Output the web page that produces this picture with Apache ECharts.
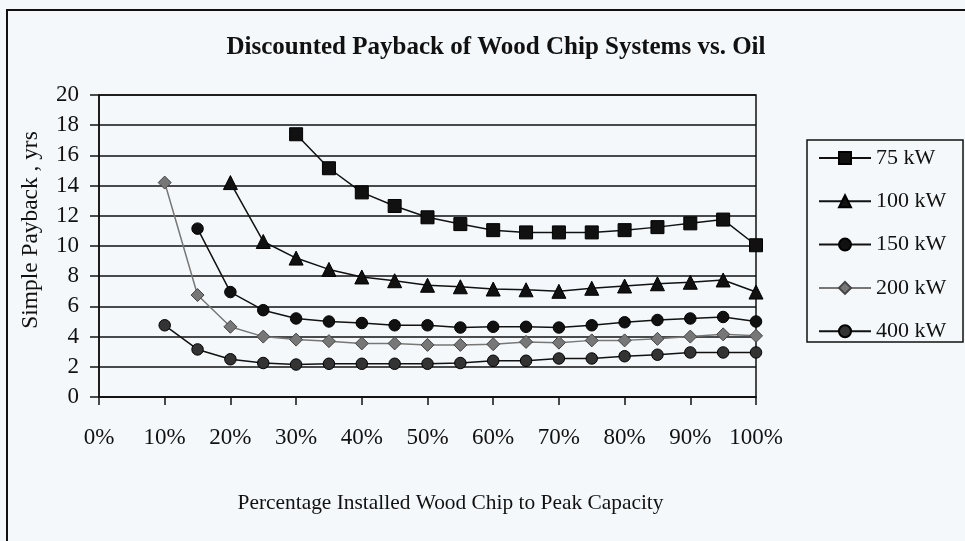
<!DOCTYPE html>
<html>
<head>
<meta charset="utf-8">
<script src="https://cdn.jsdelivr.net/npm/echarts@6/dist/echarts.min.js"></script>
<style>
  html, body { margin: 0; padding: 0; background: #f4f8fb; }
  #chart { width: 965px; height: 541px; }
</style>
</head>
<body>
<div id="chart"></div>
<script>
// Share of installed wood-chip capacity relative to peak (%)
const pct = [10, 15, 20, 25, 30, 35, 40, 45, 50, 55, 60, 65, 70, 75, 80, 85, 90, 95, 100];

// Payback in years for each boiler size (null where no value exists)
const kw75  = [null, null, null, null, 17.4, 15.15, 13.55, 12.65, 11.9, 11.45, 11.05, 10.9, 10.9, 10.9, 11.05, 11.25, 11.5, 11.75, 10.05];
const kw100 = [null, null, 14.2, 10.3, 9.2, 8.45, 7.95, 7.7, 7.4, 7.3, 7.15, 7.1, 7.0, 7.2, 7.35, 7.5, 7.6, 7.75, 6.95];
const kw150 = [null, 11.15, 6.95, 5.75, 5.2, 5.0, 4.9, 4.75, 4.75, 4.6, 4.65, 4.65, 4.6, 4.75, 4.95, 5.1, 5.2, 5.3, 5.0];
const kw200 = [14.2, 6.75, 4.65, 4.0, 3.8, 3.7, 3.55, 3.55, 3.45, 3.45, 3.5, 3.65, 3.6, 3.75, 3.75, 3.85, 4.0, 4.15, 4.05];
const kw400 = [4.75, 3.15, 2.5, 2.25, 2.15, 2.2, 2.2, 2.2, 2.2, 2.25, 2.4, 2.4, 2.55, 2.55, 2.7, 2.8, 2.95, 2.95, 2.95];

const seriesNames = ['75 kW', '100 kW', '150 kW', '200 kW', '400 kW'];
const yTicks = [0, 2, 4, 6, 8, 10, 12, 14, 16, 18, 20];

const FONT = '"Liberation Serif", "Times New Roman", serif';

function pairs(vals) {
  const out = [];
  vals.forEach((v, i) => { if (v !== null) out.push([pct[i], v]); });
  return out;
}

function lineSeries(name, vals, symbol, size, lineColor, fill, border) {
  return {
    name: name,
    type: 'line',
    data: pairs(vals),
    symbol: symbol,
    symbolSize: size,
    showAllSymbol: true,
    lineStyle: { color: lineColor, width: 1.5 },
    itemStyle: { color: fill, borderColor: border, borderWidth: 1 },
    emphasis: { disabled: true },
    animation: false,
    z: 3
  };
}

const chart = echarts.init(document.getElementById('chart'));
chart.setOption({
  backgroundColor: '#f4f8fb',
  animation: false,
  title: {
    text: 'Discounted Payback of Wood Chip Systems vs. Oil',
    left: 491,
    textAlign: 'center',
    top: 30,
    textStyle: { fontFamily: FONT, fontSize: 25, fontWeight: 'bold', color: '#111' }
  },
  graphic: [
    {
      type: 'rect',
      shape: { x: 7, y: 10, width: 1000, height: 600 },
      style: { fill: null, stroke: '#111', lineWidth: 2 },
      silent: true, z: -1
    },
    {
      type: 'rect',
      shape: { x: 807, y: 140, width: 156, height: 202 },
      style: { fill: '#f4f8fb', stroke: '#111', lineWidth: 1.5 },
      silent: true, z: 0
    }
  ],
  legend: {
    data: seriesNames,
    orient: 'vertical',
    left: 818,
    top: 147,
    padding: 0,
    itemWidth: 52,
    itemHeight: 15,
    itemGap: 21.3,
    textStyle: { fontFamily: FONT, fontSize: 22, color: '#111', lineHeight: 22 },
    z: 5
  },
  grid: {
    left: 99, right: 209, top: 95, bottom: 144,
    show: true, borderColor: '#111', borderWidth: 1.5, backgroundColor: 'transparent'
  },
  xAxis: {
    type: 'value',
    min: 0, max: 100, interval: 10,
    name: 'Percentage Installed Wood Chip to Peak Capacity',
    nameLocation: 'middle',
    nameGap: 96,
    nameTextStyle: { fontFamily: FONT, fontSize: 21.4, color: '#111', padding: [0, 0, 0, 46] },
    axisLine: { show: true, lineStyle: { color: '#111', width: 1.5 } },
    axisTick: { show: true, length: 8, lineStyle: { color: '#111', width: 1.5 } },
    axisLabel: { formatter: '{value}%', margin: 29, fontFamily: FONT, fontSize: 23, color: '#111' },
    splitLine: { show: false }
  },
  yAxis: {
    type: 'value',
    min: yTicks[0], max: yTicks[yTicks.length - 1], interval: 2,
    name: 'Simple Payback , yrs',
    nameLocation: 'middle',
    nameGap: 57,
    nameRotate: 90,
    nameTextStyle: { fontFamily: FONT, fontSize: 23.4, color: '#111', padding: [0, 0, 0, 32] },
    axisLine: { show: true, lineStyle: { color: '#111', width: 1.5 } },
    axisTick: { show: true, length: 9, lineStyle: { color: '#111', width: 1.5 } },
    axisLabel: { margin: 20, fontFamily: FONT, fontSize: 23, color: '#111' },
    splitLine: { show: true, lineStyle: { color: '#111', width: 1.6 } }
  },
  series: [
    lineSeries(seriesNames[0], kw75, 'rect', 13, '#111', '#111', '#000'),
    lineSeries(seriesNames[1], kw100, 'triangle', 14, '#111', '#111', '#000'),
    lineSeries(seriesNames[2], kw150, 'circle', 11.5, '#111', '#111', '#000'),
    lineSeries(seriesNames[3], kw200, 'diamond', 13, '#777', '#777', '#444'),
    lineSeries(seriesNames[4], kw400, 'circle', 11.5, '#111', '#333', '#000')
  ]
});
</script>
</body>
</html>
